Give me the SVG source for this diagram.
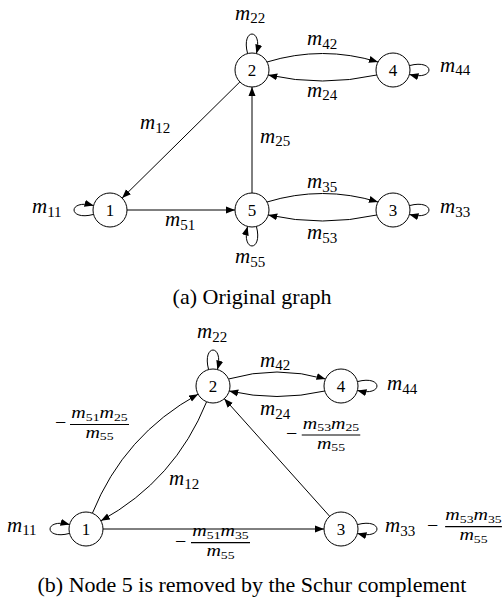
<svg xmlns="http://www.w3.org/2000/svg" width="503" height="600" viewBox="0 0 503 600">
<style>
.n circle{fill:#fff;stroke:#000;stroke-width:1}
.nl{font-family:"Liberation Serif",serif;font-size:17px;text-anchor:middle}
.e{fill:none;stroke:#000;stroke-width:1;marker-end:url(#arr)}
.lbl{font-family:"Liberation Serif",serif;font-style:italic;font-size:21px}
.sub{font-style:normal;font-size:15px}
.fr{font-family:"Liberation Serif",serif;font-style:italic;font-size:16px;text-anchor:middle}
.fs{font-style:normal;font-size:11px}
.bar{stroke:#000;stroke-width:1.2}
.minus{font-family:"Liberation Serif",serif;font-size:20px}
.cap{font-family:"Liberation Serif",serif;font-size:22px;text-anchor:middle}
</style>
<defs>
<marker id="arr" markerUnits="userSpaceOnUse" markerWidth="10" markerHeight="8" refX="9" refY="4" orient="auto" viewBox="0 0 10 8">
<path d="M0,0.5 L9,4 L0,7.5 Z" fill="#000"/>
</marker>
</defs>

<!-- (a) Original graph -->
<g id="connectors-a">
<path class="e" d="M267,62 Q322.5,45 378,62"/>
<path class="e" d="M376.8,75 Q322.5,87 268.2,75"/>
<path class="e" d="M239.9,81.9 L122.1,198.1"/>
<path class="e" d="M252,193 L252,87"/>
<path class="e" d="M127,210 L235,210"/>
<path class="e" d="M267,202 Q322.5,185 378,202"/>
<path class="e" d="M376.8,215 Q322.5,227 268.2,215"/>
<path class="e" d="M247.6,53.58 C240.61,27.5 263.39,27.5 256.4,53.58"/>
<path class="e" d="M409.42,65.6 C435.5,58.61 435.5,81.39 409.42,74.4"/>
<path class="e" d="M93.58,214.4 C67.5,221.39 67.5,198.61 93.58,205.6"/>
<path class="e" d="M409.42,205.6 C435.5,198.61 435.5,221.39 409.42,214.4"/>
<path class="e" d="M256.4,226.42 C263.39,252.5 240.61,252.5 247.6,226.42"/>
</g>
<g id="labels-a">
<text class="lbl" x="235" y="19.5">m<tspan class="sub" dy="3.5">22</tspan></text>
<text class="lbl" x="307" y="45">m<tspan class="sub" dy="3.5">42</tspan></text>
<text class="lbl" x="307" y="96.5">m<tspan class="sub" dy="3.5">24</tspan></text>
<text class="lbl" x="440" y="71.7">m<tspan class="sub" dy="3.5">44</tspan></text>
<text class="lbl" x="140" y="129">m<tspan class="sub" dy="3.5">12</tspan></text>
<text class="lbl" x="260" y="142.7">m<tspan class="sub" dy="3.5">25</tspan></text>
<text class="lbl" x="32" y="213.3">m<tspan class="sub" dy="3.5">11</tspan></text>
<text class="lbl" x="165" y="226">m<tspan class="sub" dy="3.5">51</tspan></text>
<text class="lbl" x="307" y="188">m<tspan class="sub" dy="3.5">35</tspan></text>
<text class="lbl" x="307" y="239">m<tspan class="sub" dy="3.5">53</tspan></text>
<text class="lbl" x="440" y="213.3">m<tspan class="sub" dy="3.5">33</tspan></text>
<text class="lbl" x="235" y="263.3">m<tspan class="sub" dy="3.5">55</tspan></text>
</g>
<g id="a-node1" class="n"><circle cx="110" cy="210" r="17"/><text class="nl" x="110" y="216">1</text></g>
<g id="a-node2" class="n"><circle cx="252" cy="70" r="17"/><text class="nl" x="252" y="76">2</text></g>
<g id="a-node3" class="n"><circle cx="393" cy="210" r="17"/><text class="nl" x="393" y="216">3</text></g>
<g id="a-node4" class="n"><circle cx="393" cy="70" r="17"/><text class="nl" x="393" y="76">4</text></g>
<g id="a-node5" class="n"><circle cx="252" cy="210" r="17"/><text class="nl" x="252" y="216">5</text></g>
<text class="cap" x="252" y="304">(a) Original graph</text>

<!-- (b) Schur complement -->
<g id="connectors-b">
<path class="e" d="M228.5,379 Q277,365 325.5,379"/>
<path class="e" d="M324.8,391 Q277,402 229.2,391"/>
<path class="e" d="M92.4,513.2 Q124.1,434.9 198.1,394.2"/>
<path class="e" d="M206.6,401.8 Q175,480.1 100.9,520.8"/>
<path class="e" d="M329.7,516.3 L224.3,398.7"/>
<path class="e" d="M103,529 L324,529"/>
<path class="e" d="M208.6,369.58 C201.61,343.5 224.39,343.5 217.4,369.58"/>
<path class="e" d="M357.42,381.6 C383.5,374.61 383.5,397.39 357.42,390.4"/>
<path class="e" d="M69.58,533.4 C43.5,540.39 43.5,517.61 69.58,524.6"/>
<path class="e" d="M357.42,524.6 C383.5,517.61 383.5,540.39 357.42,533.4"/>
</g>
<g id="labels-b">
<text class="lbl" x="197" y="338">m<tspan class="sub" dy="3.5">22</tspan></text>
<text class="lbl" x="260" y="366.7">m<tspan class="sub" dy="3.5">42</tspan></text>
<text class="lbl" x="260" y="415">m<tspan class="sub" dy="3.5">24</tspan></text>
<text class="lbl" x="387" y="390">m<tspan class="sub" dy="3.5">44</tspan></text>
<text class="lbl" x="169" y="485">m<tspan class="sub" dy="3.5">12</tspan></text>
<text class="lbl" x="7" y="531.7">m<tspan class="sub" dy="3.5">11</tspan></text>
<text class="lbl" x="385" y="532">m<tspan class="sub" dy="3.5">33</tspan></text>
<text class="minus" x="427" y="531.5">−</text>
<g transform="translate(473.5,526.7) scale(1.25,1)">
<text class="fr" x="0" y="-6.5">m<tspan class="fs" dy="2.5">53</tspan><tspan dy="-2.5">m</tspan><tspan class="fs" dy="2.5">35</tspan></text>
<line class="bar" x1="-22.7" y1="0" x2="22.7" y2="0"/>
<text class="fr" x="0" y="13.5">m<tspan class="fs" dy="2.5">55</tspan></text>
</g>
<text class="minus" x="55" y="429.3">−</text>
<g transform="translate(99.5,424.5) scale(1.25,1)">
<text class="fr" x="0" y="-6.5">m<tspan class="fs" dy="2.5">51</tspan><tspan dy="-2.5">m</tspan><tspan class="fs" dy="2.5">25</tspan></text>
<line class="bar" x1="-23.6" y1="0" x2="23.6" y2="0"/>
<text class="fr" x="0" y="13.5">m<tspan class="fs" dy="2.5">55</tspan></text>
</g>
<text class="minus" x="286" y="439.8">−</text>
<g transform="translate(331,435) scale(1.25,1)">
<text class="fr" x="0" y="-6.5">m<tspan class="fs" dy="2.5">53</tspan><tspan dy="-2.5">m</tspan><tspan class="fs" dy="2.5">25</tspan></text>
<line class="bar" x1="-23.4" y1="0" x2="23.4" y2="0"/>
<text class="fr" x="0" y="13.5">m<tspan class="fs" dy="2.5">55</tspan></text>
</g>
<text class="minus" x="175" y="547.5">−</text>
<g transform="translate(220.5,542.7) scale(1.25,1)">
<text class="fr" x="0" y="-6.5">m<tspan class="fs" dy="2.5">51</tspan><tspan dy="-2.5">m</tspan><tspan class="fs" dy="2.5">35</tspan></text>
<line class="bar" x1="-23.6" y1="0" x2="23.6" y2="0"/>
<text class="fr" x="0" y="13.5">m<tspan class="fs" dy="2.5">55</tspan></text>
</g>
</g>
<g id="b-node1" class="n"><circle cx="86" cy="529" r="17"/><text class="nl" x="86" y="535">1</text></g>
<g id="b-node2" class="n"><circle cx="213" cy="386" r="17"/><text class="nl" x="213" y="392">2</text></g>
<g id="b-node3" class="n"><circle cx="341" cy="529" r="17"/><text class="nl" x="341" y="535">3</text></g>
<g id="b-node4" class="n"><circle cx="341" cy="386" r="17"/><text class="nl" x="341" y="392">4</text></g>
<text class="cap" x="252" y="592">(b) Node 5 is removed by the Schur complement</text>
</svg>
